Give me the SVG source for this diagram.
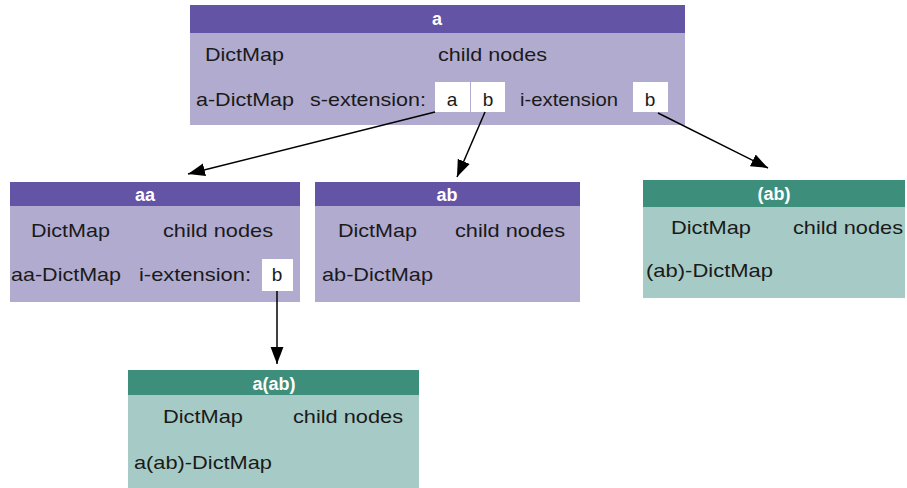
<svg xmlns="http://www.w3.org/2000/svg" width="907" height="488" viewBox="0 0 907 488">
<defs>
<style>
text{font-family:"Liberation Sans",Arial,sans-serif;font-size:19px;fill:#1a1a1a}
.hd{fill:#fff;font-weight:bold;font-size:18px;text-anchor:middle}
.c{text-anchor:middle}
.ph{fill:#6454a6}
.pb{fill:#b1abd0}
.gh{fill:#3d8f7c}
.gb{fill:#a6cbc6}
.wb{fill:#fff}
.edge{stroke:#000;stroke-width:1.5;fill:none;marker-end:url(#ah)}
</style>
<marker id="ah" viewBox="0 0 10 10" refX="10" refY="5" markerWidth="17" markerHeight="17" markerUnits="userSpaceOnUse" orient="auto">
<path d="M0,1.2 L10,5 L0,8.8 z" fill="#000"/>
</marker>
</defs>
<g id="node-a">
<rect class="pb" x="190" y="33" width="495" height="92"/>
<rect class="ph" x="190" y="5" width="495" height="28"/>
<text class="hd" x="437" y="25">a</text>
<text x="205" y="61" textLength="79" lengthAdjust="spacingAndGlyphs">DictMap</text>
<text x="438" y="61" textLength="109" lengthAdjust="spacingAndGlyphs">child nodes</text>
<text x="196" y="106" textLength="98" lengthAdjust="spacingAndGlyphs">a-DictMap</text>
<text x="310" y="106" textLength="116" lengthAdjust="spacingAndGlyphs">s-extension:</text>
<rect class="wb" x="435" y="82" width="35" height="30"/>
<rect class="wb" x="471" y="82" width="34" height="30"/>
<text class="c" x="452" y="106">a</text>
<text class="c" x="488" y="106">b</text>
<text x="520" y="106" textLength="98" lengthAdjust="spacingAndGlyphs">i-extension</text>
<rect class="wb" x="633" y="82" width="35" height="30"/>
<text class="c" x="650" y="106">b</text>
</g>
<g id="node-aa">
<rect class="pb" x="10" y="206" width="290" height="96"/>
<rect class="ph" x="10" y="182" width="290" height="24"/>
<text class="hd" x="145" y="201">aa</text>
<text x="31" y="237" textLength="79" lengthAdjust="spacingAndGlyphs">DictMap</text>
<text x="163" y="237" textLength="110" lengthAdjust="spacingAndGlyphs">child nodes</text>
<text x="11" y="281" textLength="110" lengthAdjust="spacingAndGlyphs">aa-DictMap</text>
<text x="139" y="281" textLength="112" lengthAdjust="spacingAndGlyphs">i-extension:</text>
<rect class="wb" x="262" y="259" width="31" height="32"/>
<text class="c" x="277" y="281">b</text>
</g>
<g id="node-ab">
<rect class="pb" x="315" y="206" width="265" height="96"/>
<rect class="ph" x="315" y="182" width="265" height="24"/>
<text class="hd" x="447" y="201">ab</text>
<text x="338" y="237" textLength="79" lengthAdjust="spacingAndGlyphs">DictMap</text>
<text x="455" y="237" textLength="110" lengthAdjust="spacingAndGlyphs">child nodes</text>
<text x="322" y="281" textLength="111" lengthAdjust="spacingAndGlyphs">ab-DictMap</text>
</g>
<g id="node-paren-ab">
<rect class="gb" x="643" y="207" width="262" height="91"/>
<rect class="gh" x="643" y="180" width="262" height="27"/>
<text class="hd" x="774" y="200">(ab)</text>
<text x="671" y="234" textLength="80" lengthAdjust="spacingAndGlyphs">DictMap</text>
<text x="793" y="234" textLength="110" lengthAdjust="spacingAndGlyphs">child nodes</text>
<text x="646" y="277" textLength="127" lengthAdjust="spacingAndGlyphs">(ab)-DictMap</text>
</g>
<g id="node-a-ab">
<rect class="gb" x="128" y="395" width="291" height="93"/>
<rect class="gh" x="128" y="370" width="291" height="25"/>
<text class="hd" x="274" y="390">a(ab)</text>
<text x="163" y="423" textLength="80" lengthAdjust="spacingAndGlyphs">DictMap</text>
<text x="293" y="423" textLength="110" lengthAdjust="spacingAndGlyphs">child nodes</text>
<text x="134" y="469" textLength="138" lengthAdjust="spacingAndGlyphs">a(ab)-DictMap</text>
</g>
<g id="connectors">
<line class="edge" x1="435" y1="112" x2="188" y2="174"/>
<line class="edge" x1="485" y1="112" x2="457" y2="177"/>
<line class="edge" x1="658" y1="113" x2="768" y2="168"/>
<line class="edge" x1="277" y1="291" x2="277" y2="364"/>
</g>
</svg>
